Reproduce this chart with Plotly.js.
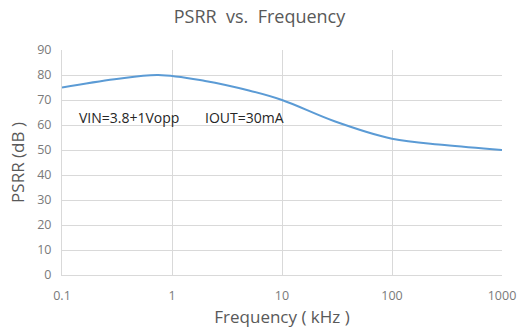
<!DOCTYPE html>
<html><head><meta charset="utf-8">
<script src="https://cdn.plot.ly/plotly-3.0.1.min.js"></script>
<style>html,body{margin:0;padding:0;background:#fff}#c{width:519px;height:333px}</style>
</head><body><div id="c"></div>
<script>
const freqKHz = [0.1, 0.3, 0.75, 2, 5, 10, 30, 100, 300, 1000];
const psrrDB  = [75, 78.3, 80, 77.6, 73.8, 70, 61.5, 54.5, 52, 50];
const xTicks = [0.1, 1, 10, 100, 1000];
const xTickLabels = ['0.1', '1', '10', '100', '1000'];
const yTicks = [0, 10, 20, 30, 40, 50, 60, 70, 80, 90];
const noteVin = 'VIN=3.8+1Vopp';
const noteIout = 'IOUT=30mA';

const gray = '#595959';
const tickGray = '#7a7a7a';
Plotly.newPlot('c', [{
  x: freqKHz, y: psrrDB, type: 'scatter', mode: 'lines',
  line: {color: '#5b9bd5', width: 2, shape: 'spline', smoothing: 1},
  hoverinfo: 'skip'
}], {
  width: 519, height: 333,
  margin: {l: 62, r: 17, t: 50, b: 58},
  paper_bgcolor: '#fff', plot_bgcolor: '#fff',
  showlegend: false,
  font: {family: 'Open Sans, DejaVu Sans, sans-serif', color: gray},
  title: {text: 'PSRR  vs.  Frequency', x: 0.5, xanchor: 'center', y: 0.95, yanchor: 'middle',
          font: {size: 18, color: gray}},
  xaxis: {type: 'log', range: [-1, 3], tickvals: xTicks, ticktext: xTickLabels,
          showgrid: true, gridcolor: '#d9d9d9', gridwidth: 1,
          showline: true, linecolor: '#d9d9d9', mirror: false, zeroline: false,
          ticks: 'outside', ticklen: 9, tickcolor: 'rgba(0,0,0,0)',
          tickfont: {size: 12.5, color: tickGray},
          title: {text: 'Frequency ( kHz )', font: {size: 17, color: gray}, standoff: 8}},
  yaxis: {range: [0, 90], tickvals: yTicks, showgrid: true, gridcolor: '#d9d9d9', gridwidth: 1,
          showline: true, linecolor: '#d9d9d9', zeroline: false,
          ticks: 'outside', ticklen: 7, tickcolor: 'rgba(0,0,0,0)',
          tickfont: {size: 12.5, color: tickGray},
          title: {text: 'PSRR (dB )', font: {size: 17, color: gray}, standoff: 8}},
  annotations: [
    {xref: 'paper', yref: 'paper', x: 0.034, y: 0.702, xanchor: 'left', yanchor: 'middle',
     text: noteVin, showarrow: false, font: {size: 14, color: '#262626'}},
    {xref: 'paper', yref: 'paper', x: 0.32, y: 0.702, xanchor: 'left', yanchor: 'middle',
     text: noteIout, showarrow: false, font: {size: 14, color: '#262626'}}
  ]
}, {staticPlot: true, displayModeBar: false});
</script></body></html>
